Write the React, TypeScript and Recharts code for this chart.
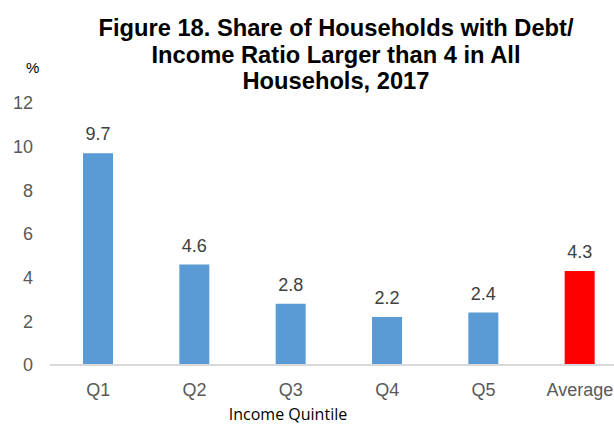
import React from "react";
import { BarChart, Bar, XAxis, YAxis, Cell, LabelList } from "recharts";

const categories = ["Q1", "Q2", "Q3", "Q4", "Q5", "Average"];
const shares = [9.7, 4.6, 2.8, 2.2, 2.4, 4.3];
const yTicks = [0, 2, 4, 6, 8, 10, 12];
const titleLines = [
  "Figure 18. Share of Households with Debt/",
  "Income Ratio Larger than 4 in All",
  "Househols, 2017",
];

const data = categories.map((c, i) => ({ name: c, value: shares[i] }));

const FONT = "'Liberation Sans', Arial, sans-serif";

export default function App() {
  return (
    <div
      style={{
        position: "fixed",
        left: 0,
        top: 0,
        width: 614,
        height: 424,
        overflow: "hidden",
        background: "#fff",
      }}
    >
      <BarChart
        width={640}
        height={424}
        data={data}
        margin={{ top: 103, right: 12, bottom: 0, left: 0 }}
        barCategoryGap={0}
      >
        <YAxis
          width={50}
          domain={[0, 12]}
          ticks={yTicks}
          axisLine={false}
          tickLine={false}
          tickSize={0}
          tickMargin={17}
          tick={{ fill: "#595959", fontSize: 18, fontFamily: FONT }}
          interval={0}
        />
        <XAxis
          dataKey="name"
          height={59}
          axisLine={{ stroke: "#D9D9D9", strokeWidth: 2 }}
          tickLine={false}
          tickSize={0}
          tickMargin={18}
          tick={{ fill: "#595959", fontSize: 18, fontFamily: FONT }}
          interval={0}
        />
        <Bar dataKey="value" barSize={30} isAnimationActive={false}>
          {data.map((d) => (
            <Cell
              key={d.name}
              fill={d.name === "Average" ? "#FF0000" : "#5B9BD5"}
            />
          ))}
          <LabelList
            dataKey="value"
            position="top"
            offset={13}
            fill="#404040"
            fontSize={18}
            fontFamily={FONT}
          />
        </Bar>
      </BarChart>
      <div
        style={{
          position: "absolute",
          left: 86,
          width: 500,
          top: 15,
          textAlign: "center",
          fontFamily: FONT,
          fontWeight: "bold",
          fontSize: 23.7,
          lineHeight: "26.5px",
          color: "#000",
        }}
      >
        {titleLines.map((l) => (
          <div key={l} style={{ whiteSpace: "nowrap" }}>
            {l}
          </div>
        ))}
      </div>
      <div
        style={{
          position: "absolute",
          left: 26,
          top: 59,
          fontFamily: FONT,
          fontSize: 15,
          color: "#000",
        }}
      >
        %
      </div>
      <div
        style={{
          position: "absolute",
          left: 188,
          width: 200,
          top: 406,
          height: 17,
          textAlign: "center",
          fontFamily: "'Open Sans', sans-serif",
          fontSize: 16,
          lineHeight: "16px",
          color: "#000",
        }}
      >
        Income Quintile
      </div>
    </div>
  );
}
